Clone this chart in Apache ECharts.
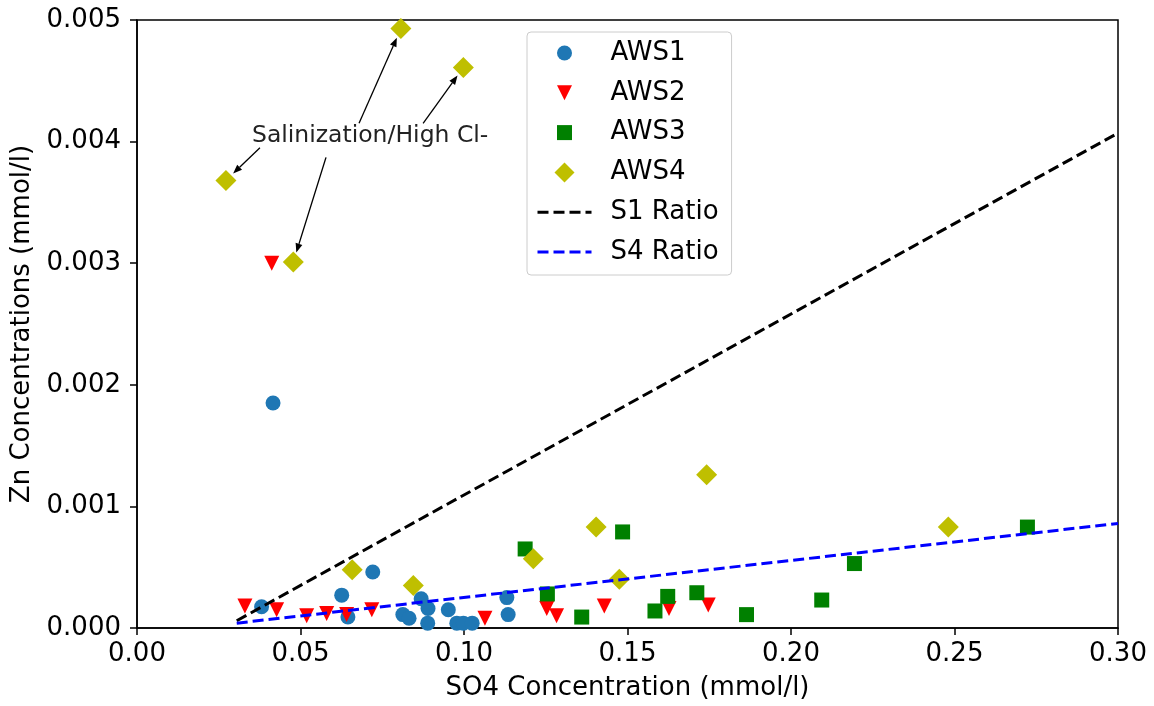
<!DOCTYPE html>
<html>
  <head>
    <meta charset="UTF-8">
    <title>Zn vs SO4</title>
    <script src="https://cdn.jsdelivr.net/npm/echarts@6/dist/echarts.min.js"></script>
    <style>
      html, body { margin: 0; padding: 0; background: #fff; }
      #main { width: 1154px; height: 706px; }
    </style>
  </head>
  <body>
    <div id="main"></div>
    <script type="text/javascript">
      // SO4 (mmol/l), Zn (mmol/l)
      var aws1 = [
        [0.0416, 0.00185], [0.0381, 0.000175], [0.0626, 0.00027], [0.0721, 0.00046],
        [0.0645, 0.00009], [0.0813, 0.00011], [0.0832, 0.00008], [0.0869, 0.00024],
        [0.0890, 0.00016], [0.0889, 0.00004], [0.0952, 0.00015], [0.0978, 0.00004],
        [0.0998, 0.00004], [0.1025, 0.00004], [0.1131, 0.00025], [0.1135, 0.00011]
      ];
      var aws2 = [
        [0.0412, 0.00300], [0.0330, 0.00018], [0.0427, 0.00015], [0.0519, 0.00010],
        [0.0580, 0.00012], [0.0641, 0.00011], [0.0718, 0.00015], [0.1064, 0.00008],
        [0.1253, 0.00016], [0.1283, 0.00010], [0.1429, 0.00018], [0.1627, 0.00016],
        [0.1747, 0.00019]
      ];
      var aws3 = [
        [0.1187, 0.00065], [0.1255, 0.00028], [0.1485, 0.00079], [0.1360, 0.00009],
        [0.1584, 0.00014], [0.1623, 0.00026], [0.1712, 0.00029], [0.1864, 0.00011],
        [0.2094, 0.00023], [0.2194, 0.00053], [0.2723, 0.00083]
      ];
      var aws4 = [
        [0.0272, 0.00368], [0.0807, 0.00493], [0.0998, 0.00461], [0.0478, 0.00301],
        [0.0658, 0.00048], [0.0845, 0.00035], [0.1212, 0.00057], [0.1404, 0.00083],
        [0.1475, 0.00040], [0.1742, 0.00126], [0.2481, 0.00083]
      ];
      var s1Ratio = [[0.0305, 0.00006], [0.30, 0.00407]];
      var s4Ratio = [[0.0305, 0.00004], [0.30, 0.00086]];

      var xTicks = [0, 0.05, 0.10, 0.15, 0.20, 0.25, 0.30];
      var yTicks = [0, 0.001, 0.002, 0.003, 0.004, 0.005];

      // annotation: text anchor and arrow tails (data coords), arrows point at the first 4 AWS4 points
      var noteText = 'Salinization/High Cl-';
      var noteAt = [0.0713, 0.00405];
      var arrowTails = [[0.0376, 0.00395], [0.0679, 0.00415], [0.0875, 0.00415], [0.0578, 0.00387]];

      var font = 'DejaVu Sans';
      var chart = echarts.init(document.getElementById('main'), null, { renderer: 'canvas' });

      function axisCommon(dec) {
        return {
          axisLine: { show: true, onZero: false, lineStyle: { color: '#000', width: 1.5 } },
          axisTick: { show: true, length: 7, lineStyle: { color: '#000', width: 1.5 } },
          splitLine: { show: false },
          axisLabel: {
            fontFamily: font, fontSize: 26, color: '#000',
            formatter: function (v) { return v.toFixed(dec); }
          },
          nameLocation: 'middle',
          nameTextStyle: { fontFamily: font, fontSize: 26, color: '#000' }
        };
      }

      var xAxis = axisCommon(2);
      xAxis.type = 'value';
      xAxis.min = xTicks[0];
      xAxis.max = xTicks[xTicks.length - 1];
      xAxis.interval = xTicks[1] - xTicks[0];
      xAxis.name = 'SO4 Concentration (mmol/l)';
      xAxis.nameGap = 47;
      xAxis.axisLabel.margin = 13;

      var yAxis = axisCommon(3);
      yAxis.type = 'value';
      yAxis.min = yTicks[0];
      yAxis.max = yTicks[yTicks.length - 1];
      yAxis.interval = yTicks[1] - yTicks[0];
      yAxis.name = 'Zn Concentrations (mmol/l)';
      yAxis.nameGap = 100;
      yAxis.axisLabel.margin = 16;

      function scatter(name, data, symbol, size, color, rotate) {
        return {
          name: name, type: 'scatter', data: data,
          symbol: symbol, symbolSize: size, symbolRotate: rotate || 0,
          itemStyle: { color: color, opacity: 1 },
          emphasis: { disabled: true }
        };
      }
      function ratioLine(name, data, color) {
        return {
          name: name, type: 'line', data: data,
          symbol: 'none', showSymbol: false,
          lineStyle: { color: color, width: 3, type: [11, 5] },
          itemStyle: { color: color },
          emphasis: { disabled: true }
        };
      }

      // legend icons on a 20x20 box so they keep their shape and relative size
      var icCircle = 'path://M0,0M20,20M2.5,10A7.5,7.5,0,1,1,17.5,10A7.5,7.5,0,1,1,2.5,10Z';
      var icDownTri = 'path://M0,0M20,20M2.5,2.5L17.5,2.5L10,17.5Z';
      var icSquare = 'path://M0,0M20,20M2.5,2.5L17.5,2.5L17.5,17.5L2.5,17.5Z';
      var icDiamond = 'path://M10,0L20,10L10,20L0,10Z';
      var legendLine = { width: 3, type: [11, 5] };

      chart.setOption({
        animation: false,
        backgroundColor: '#fff',
        grid: {
          left: 137, right: 36, top: 20, bottom: 78,
          show: true, borderColor: '#000', borderWidth: 1.5, backgroundColor: 'transparent'
        },
        xAxis: xAxis,
        yAxis: yAxis,
        legend: {
          orient: 'vertical', left: 527, top: 32,
          padding: [6, 13, 8, 9],
          itemWidth: 54, itemHeight: 20, itemGap: 9.8,
          backgroundColor: 'rgba(255,255,255,0.8)',
          borderColor: '#cccccc', borderWidth: 1, borderRadius: 4,
          textStyle: { fontFamily: font, fontSize: 26, color: '#000', lineHeight: 30, padding: [0, 0, 0, 14] },
          data: [
            { name: 'AWS1', icon: icCircle },
            { name: 'AWS2', icon: icDownTri },
            { name: 'AWS3', icon: icSquare },
            { name: 'AWS4', icon: icDiamond },
            { name: 'S1 Ratio', itemStyle: { opacity: 0 }, lineStyle: legendLine },
            { name: 'S4 Ratio', itemStyle: { opacity: 0 }, lineStyle: legendLine }
          ]
        },
        series: [
          scatter('AWS1', aws1, 'circle', 15, '#1f77b4'),
          scatter('AWS2', aws2, 'triangle', 15, '#ff0000', 180),
          scatter('AWS3', aws3, 'rect', 15, '#008000'),
          scatter('AWS4', aws4, 'diamond', 21, '#bfbf00'),
          ratioLine('S1 Ratio', s1Ratio, '#000000'),
          ratioLine('S4 Ratio', s4Ratio, '#0000ff')
        ]
      });

      // annotation text and arrows, placed through the chart's own scales
      var graphics = [];
      var pNote = chart.convertToPixel({ gridIndex: 0 }, noteAt);
      graphics.push({
        type: 'text', x: pNote[0], y: pNote[1], z: 10,
        style: { text: noteText, fontFamily: font, fontSize: 23.5, fill: '#222', align: 'center', verticalAlign: 'middle' }
      });
      for (var i = 0; i < arrowTails.length; i++) {
        var p0 = chart.convertToPixel({ gridIndex: 0 }, arrowTails[i]);
        var p1 = chart.convertToPixel({ gridIndex: 0 }, aws4[i]);
        var dx = p1[0] - p0[0], dy = p1[1] - p0[1];
        var len = Math.sqrt(dx * dx + dy * dy);
        var ux = dx / len, uy = dy / len;
        var ex = p1[0] - ux * 10, ey = p1[1] - uy * 10;   // stop short of the marker
        var bx = ex - ux * 9, by = ey - uy * 9;
        graphics.push({
          type: 'line', z: 10,
          shape: { x1: p0[0], y1: p0[1], x2: bx, y2: by },
          style: { stroke: '#000', lineWidth: 1.3 }
        });
        graphics.push({
          type: 'polygon', z: 10,
          shape: { points: [[ex, ey], [bx - uy * 3.5, by + ux * 3.5], [bx + uy * 3.5, by - ux * 3.5]] },
          style: { fill: '#000' }
        });
      }
      chart.setOption({ graphic: graphics });
    </script>
  </body>
</html>
